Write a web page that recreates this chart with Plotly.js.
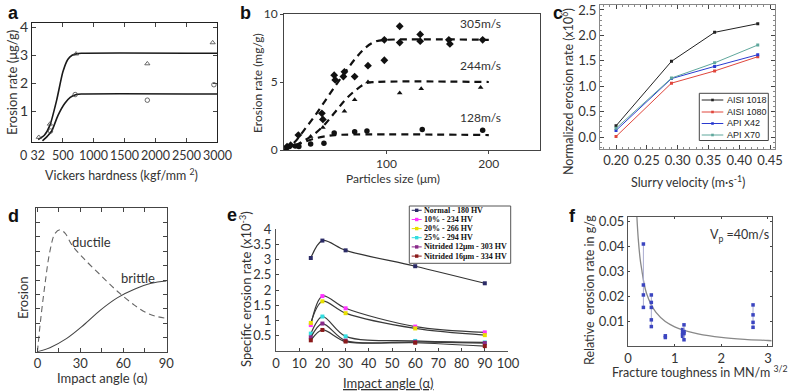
<!DOCTYPE html>
<html><head><meta charset="utf-8">
<script src="https://cdn.plot.ly/plotly-3.0.1.min.js"></script>
<style>html,body{margin:0;padding:0;background:#fff}#chart{width:790px;height:392px}</style>
</head><body><div id="chart"></div><script>
// ---------- Panel a ----------
const aUpperCurveX = [100, 200, 290, 400, 500, 580, 650, 720, 800, 3000];
const aUpperCurveY = [0, 0.15, 0.5, 1.4, 2.4, 2.85, 3.0, 3.05, 3.07, 3.07];
const aLowerCurveX = [170, 250, 320, 420, 530, 620, 720, 800, 3000];
const aLowerCurveY = [-0.05, 0.12, 0.3, 0.85, 1.28, 1.5, 1.6, 1.62, 1.62];
const aTriX = [110, 290, 715, 1870, 2930];
const aTriY = [0.08, 0.55, 3.05, 2.7, 3.45];
const aCircX = [300, 700, 1870, 2950];
const aCircY = [0.3, 1.6, 1.4, 1.95];
const aTickVals = [0, 500, 1000, 1500, 2000, 2500, 3000];
const aTickText = ['0 32', '500', '1000', '1500', '2000', '2500', '3000'];

// ---------- Panel b ----------
const b305X = [3, 6.5, 14, 37, 38, 49, 50, 58, 59, 69, 82, 98, 98, 113, 113, 133, 133, 161, 162, 194];
const b305Y = [0.25, 0.35, 1.1, 2.7, 2.25, 5.5, 5.15, 5.4, 5.75, 5.4, 6.2, 6.6, 8.1, 9.1, 7.9, 8.5, 8.0, 8.1, 7.8, 8.1];
const b244X = [5, 26, 38, 59, 69, 82, 113, 134, 192];
const b244Y = [0.25, 1.0, 1.65, 2.85, 3.7, 5.0, 4.2, 4.5, 4.6];
const b128X = [3, 11, 14.5, 26, 39, 49, 69, 81, 135, 194];
const b128Y = [0.2, 0.3, 0.25, 0.45, 0.5, 1.25, 1.35, 1.4, 1.5, 1.45];
const b305FitX = [0, 10, 20, 30, 40, 50, 60, 70, 80, 90, 100, 200];
const b305FitY = [0, 0.55, 1.5, 2.5, 3.6, 4.7, 5.75, 6.75, 7.55, 8.0, 8.1, 8.1];
const b244FitX = [0, 10, 20, 30, 40, 50, 60, 70, 80, 90, 200];
const b244FitY = [0, 0.3, 0.7, 1.2, 1.9, 2.8, 3.7, 4.4, 4.9, 5.0, 5.0];
const b128FitX = [0, 10, 20, 30, 40, 50, 200];
const b128FitY = [0, 0.3, 0.6, 0.85, 1.0, 1.1, 1.1];
const bSpeedLabels = ['305m/s', '244m/s', '128m/s'];
const bLabelY = [9.32, 6.18, 2.4];

// ---------- Panel c ----------
const cVelocity = [0.20, 0.29, 0.36, 0.43];
const cNames = ['AISI 1018', 'AISI 1080', 'API X42', 'API X70'];
const cColors = ['#222222', '#e0463c', '#2a3ad0', '#5fa79c'];
const cAISI1018 = [0.22, 1.49, 2.06, 2.23];
const cAISI1080 = [0.01, 1.06, 1.30, 1.58];
const cAPIX42 = [0.13, 1.15, 1.39, 1.62];
const cAPIX70 = [0.17, 1.16, 1.46, 1.81];

// ---------- Panel d ----------
const dDuctileX = [0, 2.1, 5.2, 8.7, 12.3, 15.8, 19.4, 24, 32.3, 44, 56, 67.7, 77, 84, 90];
const dDuctileY = [0, 2.1, 4.65, 7.0, 8.25, 8.5, 8.25, 7.45, 6.5, 5.35, 4.2, 3.25, 2.67, 2.44, 2.33];
const dBrittleX = [0, 8.7, 20.5, 32.3, 44, 56, 67.7, 79.5, 90];
const dBrittleY = [0, 0.28, 0.93, 1.86, 2.9, 3.77, 4.35, 4.77, 4.93];

// ---------- Panel e ----------
const eAngle = [15, 20, 30, 60, 90];
const eNames = ['Normal - 180 HV', '10% - 234 HV', '20% - 266 HV', '25% - 294 HV', 'Nitrided 12μm - 303 HV', 'Nitrided 16μm - 334 HV'];
const eColors = ['#2b2b66', '#ff33ff', '#e8e000', '#33dde0', '#8a2a8a', '#8b1a1a'];
const eNormal = [3.05, 3.62, 3.3, 2.78, 2.22];
const e10 = [0.85, 1.8, 1.4, 0.8, 0.61];
const e20 = [0.92, 1.63, 1.24, 0.74, 0.52];
const e25 = [0.57, 1.13, 0.48, 0.33, 0.28];
const eN12 = [0.45, 0.9, 0.34, 0.3, 0.26];
const eN16 = [0.35, 0.69, 0.31, 0.27, 0.16];

// ---------- Panel f ----------
const fColumnX = [0.33, 0.5, 0.8, 1.17, 1.2, 2.68];
const fColumnY = [
  [0.041, 0.0245, 0.0205, 0.0155],
  [0.0205, 0.0175, 0.0155, 0.0105, 0.0078],
  [0.0041, 0.0034],
  [0.0066, 0.0053, 0.0045, 0.0039],
  [0.0085, 0.0058, 0.005, 0.0025],
  [0.0165, 0.0125, 0.0095, 0.0075]
];
const fCurveX = [0.19, 0.22, 0.26, 0.3, 0.35, 0.4, 0.5, 0.6, 0.8, 1.0, 1.2, 1.5, 2.0, 2.5, 3.0, 3.08];
const fCurveY = [0.052, 0.043, 0.035, 0.030, 0.0245, 0.021, 0.0165, 0.0135, 0.0098, 0.0077, 0.0063, 0.0049, 0.0035, 0.0027, 0.0022, 0.0021];

// ---------- helpers ----------
const W = 790, H = 392;
const px = x => x / W;
const py = y => 1 - y / H;
const FONT = 'Lato, "Open Sans", sans-serif';

const traces = [];
// a
traces.push({x: aUpperCurveX, y: aUpperCurveY, xaxis: 'x', yaxis: 'y', mode: 'lines', line: {color: '#1a1a1a', width: 1.6, shape: 'spline', smoothing: 0.6}, showlegend: false});
traces.push({x: aLowerCurveX, y: aLowerCurveY, xaxis: 'x', yaxis: 'y', mode: 'lines', line: {color: '#1a1a1a', width: 1.6, shape: 'spline', smoothing: 0.6}, showlegend: false});
traces.push({x: aTriX, y: aTriY, xaxis: 'x', yaxis: 'y', mode: 'markers', marker: {symbol: 'triangle-up-open', size: 4.5, color: '#444', line: {width: 0.8}}, showlegend: false, cliponaxis: false});
traces.push({x: aCircX, y: aCircY, xaxis: 'x', yaxis: 'y', mode: 'markers', marker: {symbol: 'circle-open', size: 4.5, color: '#444', line: {width: 0.8}}, showlegend: false, cliponaxis: false});
// b
const bFitStyle = {color: '#111', width: 2.2, dash: '7px,5px'};
traces.push({x: b305FitX, y: b305FitY, xaxis: 'x2', yaxis: 'y2', mode: 'lines', line: Object.assign({shape: 'spline'}, bFitStyle), showlegend: false});
traces.push({x: b244FitX, y: b244FitY, xaxis: 'x2', yaxis: 'y2', mode: 'lines', line: Object.assign({shape: 'spline'}, bFitStyle), showlegend: false});
traces.push({x: b128FitX, y: b128FitY, xaxis: 'x2', yaxis: 'y2', mode: 'lines', line: Object.assign({shape: 'spline'}, bFitStyle), showlegend: false});
traces.push({x: b305X, y: b305Y, xaxis: 'x2', yaxis: 'y2', mode: 'markers', marker: {symbol: 'diamond', size: 6, color: '#111'}, showlegend: false});
traces.push({x: b244X, y: b244Y, xaxis: 'x2', yaxis: 'y2', mode: 'markers', marker: {symbol: 'triangle-up', size: 5, color: '#111'}, showlegend: false});
traces.push({x: b128X, y: b128Y, xaxis: 'x2', yaxis: 'y2', mode: 'markers', marker: {symbol: 'circle', size: 5.5, color: '#111'}, showlegend: false});
// c
[cAISI1018, cAISI1080, cAPIX42, cAPIX70].forEach((ys, i) => {
  traces.push({x: cVelocity, y: ys, xaxis: 'x3', yaxis: 'y3', mode: 'lines+markers', name: cNames[i],
    line: {color: cColors[i], width: 1}, marker: {symbol: 'square', size: 3, color: cColors[i]}, showlegend: false});
});
// d
traces.push({x: dDuctileX, y: dDuctileY, xaxis: 'x4', yaxis: 'y4', mode: 'lines', line: {color: '#666', width: 1.1, dash: '6px,4px', shape: 'spline'}, showlegend: false});
traces.push({x: dBrittleX, y: dBrittleY, xaxis: 'x4', yaxis: 'y4', mode: 'lines', line: {color: '#444', width: 1.1, shape: 'spline'}, showlegend: false});
// e
[eNormal, e10, e20, e25, eN12, eN16].forEach((ys, i) => {
  traces.push({x: eAngle, y: ys, xaxis: 'x5', yaxis: 'y5', mode: 'lines+markers', name: eNames[i],
    line: {color: i === 0 ? '#333' : '#3a3a3a', width: 1.2, shape: 'spline', smoothing: 0.9},
    marker: {symbol: 'square', size: 4, color: eColors[i]}, showlegend: false, cliponaxis: false});
});
// f
traces.push({x: fCurveX, y: fCurveY, xaxis: 'x6', yaxis: 'y6', mode: 'lines', line: {color: '#888', width: 1.3, shape: 'spline'}, showlegend: false});
fColumnX.forEach((cx, i) => {
  traces.push({x: fColumnY[i].map(() => cx), y: fColumnY[i], xaxis: 'x6', yaxis: 'y6', mode: 'lines+markers',
    line: {color: '#a9acd0', width: 1}, marker: {symbol: 'square', size: 3.5, color: '#3b45c0'}, showlegend: false});
});

const tickFont = s => ({family: FONT, size: s, color: '#333'});
const base = {showgrid: false, zeroline: false, fixedrange: true, showline: true, linecolor: '#333', linewidth: 1, tickangle: 0};

const layout = {
  width: W, height: H, margin: {l: 0, r: 0, t: 0, b: 0},
  paper_bgcolor: '#fff', plot_bgcolor: 'rgba(0,0,0,0)',
  font: {family: FONT, color: '#333'},
  showlegend: false,
  // a (x tick labels drawn as annotations below, the reference labels nearly touch)
  xaxis: Object.assign({}, base, {domain: [px(32), px(217)], anchor: 'y', range: [0, 3000], tickvals: aTickVals, showticklabels: false,
    ticks: 'inside', ticklen: 4, mirror: 'ticks', linecolor: '#222', linewidth: 1.2}),
  yaxis: Object.assign({}, base, {domain: [py(141.7), py(22.7)], anchor: 'x', range: [-0.08, 4.16], tickvals: [1, 2, 3, 4],
    ticks: 'inside', ticklen: 4, mirror: 'ticks', tickfont: tickFont(14), linecolor: '#222', linewidth: 1.2}),
  // b
  xaxis2: Object.assign({}, base, {domain: [px(284), px(540)], anchor: 'y2', range: [0, 250], tickvals: [100, 200],
    ticks: 'outside', ticklen: 3, mirror: true, tickfont: tickFont(12), linecolor: '#444'}),
  yaxis2: Object.assign({}, base, {domain: [py(150), py(14)], anchor: 'x2', range: [0, 10], tickvals: [0, 5, 10],
    ticks: 'outside', ticklen: 3, mirror: true, tickfont: tickFont(12), linecolor: '#444'}),
  // c
  xaxis3: Object.assign({}, base, {domain: [px(600), px(775)], anchor: 'y3', range: [0.174, 0.458], tickvals: [0.2, 0.25, 0.3, 0.35, 0.4, 0.45],
    tickformat: '.2f', ticks: 'inside', ticklen: 4, mirror: 'ticks', tickfont: tickFont(13), linecolor: '#888',
    minor: {ticks: 'inside', ticklen: 2, dtick: 0.01, tick0: 0.2, tickcolor: '#888'}}),
  yaxis3: Object.assign({}, base, {domain: [py(148.7), py(4.9)], anchor: 'x3', range: [-0.23, 2.6], tickvals: [0, 0.5, 1, 1.5, 2, 2.5],
    tickformat: '.1f', ticks: 'inside', ticklen: 4, mirror: 'ticks', tickfont: tickFont(13), linecolor: '#888',
    minor: {ticks: 'inside', ticklen: 2, dtick: 0.1, tick0: 0, tickcolor: '#888'}}),
  // d
  xaxis4: Object.assign({}, base, {domain: [px(36), px(167)], anchor: 'y4', range: [-1, 90.5], tickvals: [0, 30, 60, 90],
    ticks: 'inside', ticklen: 4, mirror: 'ticks', tickfont: tickFont(13), linecolor: '#444',
    minor: {ticks: 'inside', ticklen: 4, dtick: 15, tick0: 0, tickcolor: '#444'}}),
  yaxis4: Object.assign({}, base, {domain: [py(351.7), py(208.3)], anchor: 'x4', range: [0, 10], dtick: 1, showticklabels: false,
    ticks: 'inside', ticklen: 4, mirror: 'ticks', linecolor: '#444'}),
  // e
  xaxis5: Object.assign({}, base, {domain: [px(276), px(508)], anchor: 'y5', range: [0, 100], dtick: 10,
    ticks: 'inside', ticklen: 3, tickfont: tickFont(13), linecolor: '#555'}),
  yaxis5: Object.assign({}, base, {domain: [py(351), py(229)], anchor: 'x5', range: [0, 4], tickvals: [0.5, 1, 1.5, 2, 2.5, 3, 3.5, 4],
    ticks: 'inside', ticklen: 3, tickfont: tickFont(13), linecolor: '#555', ticklabelstandoff: 1}),
  // f
  xaxis6: Object.assign({}, base, {domain: [px(628), px(771.7)], anchor: 'y6', range: [0, 3.08], tickvals: [0, 1, 2, 3],
    ticks: 'inside', ticklen: 2, mirror: 'ticks', tickfont: tickFont(13), linecolor: '#555'}),
  yaxis6: Object.assign({}, base, {domain: [py(346), py(216.5)], anchor: 'x6', range: [0, 0.052], tickvals: [0.01, 0.02, 0.03, 0.04, 0.05],
    tickformat: '.2f', ticks: 'inside', ticklen: 2, mirror: 'ticks', tickfont: tickFont(13), linecolor: '#555'}),
  shapes: [],
  annotations: []
};

const ann = (text, x, y, opts) => layout.annotations.push(Object.assign({text: text, x: px(x), y: py(y), xref: 'paper', yref: 'paper',
  showarrow: false, xanchor: 'center', yanchor: 'middle', font: {family: FONT, size: 13, color: '#333'}}, opts || {}));

// panel a tick labels, placed on the data axis
aTickVals.forEach((v, i) => layout.annotations.push({text: aTickText[i], x: v, y: py(155), xref: 'x', yref: 'paper',
  showarrow: false, xanchor: 'center', yanchor: 'middle', font: {family: FONT, size: 12.5, color: '#333'}}));

// panel letters
[['a', 13, 13], ['b', 245, 13], ['c', 558, 13], ['d', 13, 216], ['e', 232, 215], ['f', 572, 216]].forEach(l =>
  ann('<b>' + l[0] + '</b>', l[1], l[2], {font: {family: 'Liberation Sans, Arial, sans-serif', size: 18, color: '#111'}}));

// axis titles
ann('Vickers hardness (kgf/mm <sup>2</sup>)', 122, 174, {font: {family: FONT, size: 12.5, color: '#333'}});
ann('Erosion rate (μg/g)', 12, 83, {textangle: -90, font: {family: FONT, size: 13, color: '#333'}});
ann('Particles size (μm)', 393, 178, {font: {family: FONT, size: 12, color: '#333'}});
ann('Erosion rate (mg/g)', 257, 83, {textangle: -90, font: {family: FONT, size: 12, color: '#333'}});
ann('Slurry velocity (m·s<sup>-1</sup>)', 688, 181, {font: {family: FONT, size: 12.5, color: '#333'}});
ann('Normalized erosion rate (x10<sup>6</sup>)', 567, 92, {textangle: -90, font: {family: FONT, size: 12.5, color: '#333'}});
ann('Impact angle (α)', 102, 378, {font: {family: FONT, size: 13, color: '#333'}});
ann('Erosion', 23, 298, {textangle: -90, font: {family: FONT, size: 13, color: '#333'}});
ann('<u>Impact angle (α)</u>', 388, 383, {font: {family: FONT, size: 13, color: '#333'}});
ann('Specific erosion rate (x10<sup>-3</sup>)', 245, 289, {textangle: -90, font: {family: FONT, size: 13, color: '#333'}});
ann('Fracture toughness in MN/m <sup>3/2</sup>', 700, 371, {font: {family: FONT, size: 12.5, color: '#333'}});
ann('Relative  erosion rate in g/g', 589, 290, {textangle: -90, font: {family: FONT, size: 12.5, color: '#333'}});

// in-plot labels
bSpeedLabels.forEach((t, i) => layout.annotations.push({text: t, x: 192, y: bLabelY[i], xref: 'x2', yref: 'y2', showarrow: false,
  font: {family: FONT, size: 12, color: '#333'}}));
layout.annotations.push({text: 'ductile', x: 38, y: 7.67, xref: 'x4', yref: 'y4', showarrow: false, font: {family: FONT, size: 13, color: '#333'}});
layout.annotations.push({text: 'brittle', x: 70, y: 5.15, xref: 'x4', yref: 'y4', showarrow: false, font: {family: FONT, size: 13, color: '#333'}});
layout.annotations.push({text: 'V<sub>p</sub> =40m/s', x: 2.4, y: 0.0443, xref: 'x6', yref: 'y6', showarrow: false, font: {family: FONT, size: 12.5, color: '#333'}});

// legend c (manual)
const cRowY = [100, 112, 123.5, 135];
layout.shapes.push({type: 'rect', xref: 'paper', yref: 'paper', x0: px(699.3), x1: px(768.3), y0: py(140.5), y1: py(93.3),
  line: {color: '#444', width: 1}, fillcolor: '#fff'});
cNames.forEach((n, i) => {
  layout.shapes.push({type: 'line', xref: 'paper', yref: 'paper', x0: px(701.7), x1: px(723.3), y0: py(cRowY[i]), y1: py(cRowY[i]), line: {color: cColors[i], width: 1}});
  layout.shapes.push({type: 'rect', xref: 'paper', yref: 'paper', x0: px(711.2), x1: px(713.8), y0: py(cRowY[i] + 1.3), y1: py(cRowY[i] - 1.3), line: {width: 0}, fillcolor: cColors[i]});
  ann(n, 725, cRowY[i], {xanchor: 'left', font: {family: 'Liberation Sans, Arial, sans-serif', size: 9, color: '#222'}});
});

// legend e (manual)
const eRowY = [210.3, 219.5, 228.6, 237.7, 246.9, 256.1];
layout.shapes.push({type: 'rect', xref: 'paper', yref: 'paper', x0: px(409.3), x1: px(510.7), y0: py(263.3), y1: py(206),
  line: {color: '#555', width: 1}, fillcolor: '#fff'});
eNames.forEach((n, i) => {
  layout.shapes.push({type: 'line', xref: 'paper', yref: 'paper', x0: px(411.7), x1: px(421.7), y0: py(eRowY[i]), y1: py(eRowY[i]), line: {color: i === 0 ? '#2b2b66' : eColors[i], width: 1}});
  layout.shapes.push({type: 'rect', xref: 'paper', yref: 'paper', x0: px(415), x1: px(418.4), y0: py(eRowY[i] + 1.7), y1: py(eRowY[i] - 1.7), line: {width: 0}, fillcolor: eColors[i]});
  ann('<b>' + n + '</b>', 422.5, eRowY[i], {xanchor: 'left', font: {family: 'Liberation Serif, Times New Roman, serif', size: 8, color: '#111'}});
});

Plotly.newPlot('chart', traces, layout, {staticPlot: true, displayModeBar: false});
</script></body></html>
